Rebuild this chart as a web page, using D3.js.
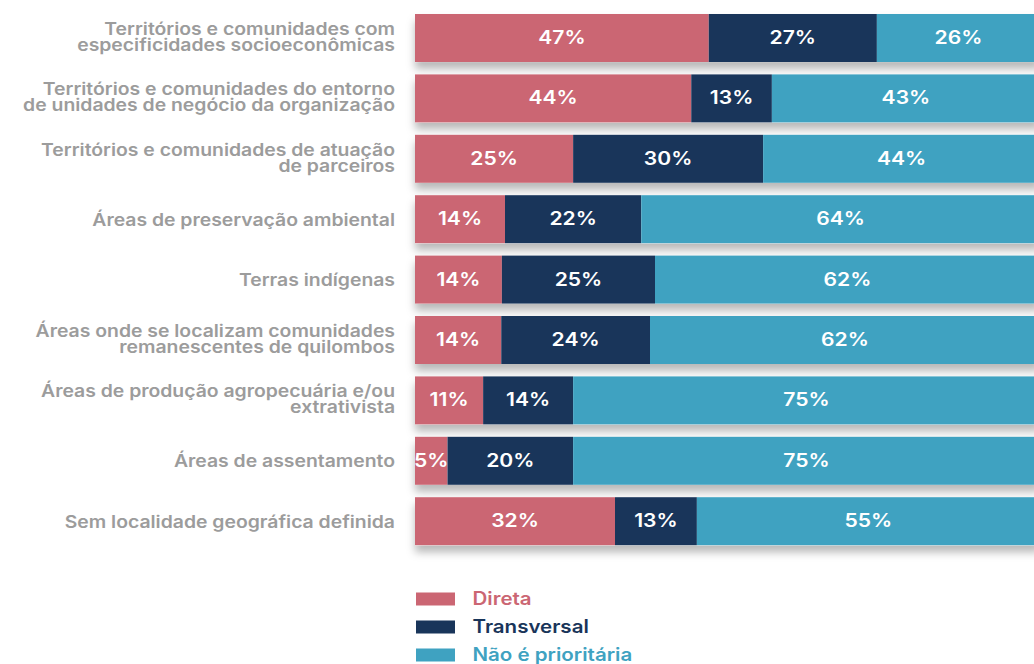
<!DOCTYPE html>
<html>
<head>
<meta charset="utf-8">
<script src="https://cdn.jsdelivr.net/npm/d3@7"></script>
<style>
  html, body { margin: 0; padding: 0; background: #ffffff; }
  svg { display: block; }
</style>
</head>
<body>
<svg id="chart" width="1034" height="664"></svg>
<script>
const categories = [
  ["Territórios e comunidades com", "especificidades socioeconômicas"],
  ["Territórios e comunidades do entorno", "de unidades de negócio da organização"],
  ["Territórios e comunidades de atuação", "de parceiros"],
  ["Áreas de preservação ambiental"],
  ["Terras indígenas"],
  ["Áreas onde se localizam comunidades", "remanescentes de quilombos"],
  ["Áreas de produção agropecuária e/ou", "extrativista"],
  ["Áreas de assentamento"],
  ["Sem localidade geográfica definida"]
];
const seriesNames = ["Direta", "Transversal", "Não é prioritária"];
const direta      = [47.0, 44.2, 25.3, 14.4, 13.9, 13.8, 10.9, 5.2, 32.0];
const transversal = [26.9, 12.9, 30.4, 21.8, 24.5, 23.8, 14.4, 20.1, 13.1];
const naoPrior    = [26.1, 42.9, 44.3, 63.8, 61.6, 62.4, 74.7, 74.7, 54.9];
const labelDireta      = ["47%", "44%", "25%", "14%", "14%", "14%", "11%", "5%", "32%"];
const labelTransversal = ["27%", "13%", "30%", "22%", "25%", "24%", "14%", "20%", "13%"];
const labelNao         = ["26%", "43%", "44%", "64%", "62%", "62%", "75%", "75%", "55%"];

const colors = ["#CB6673", "#19355A", "#3FA2C1"];
const FONT = "Inter, 'Open Sans', sans-serif";
const SX = 1.14; // horizontal stretch of the reference typography

const svg = d3.select("#chart");

const defs = svg.append("defs");
const f = defs.append("filter").attr("id", "shadow")
  .attr("x", "-5%").attr("y", "-20%").attr("width", "110%").attr("height", "160%");
f.append("feDropShadow").attr("dx", 0).attr("dy", 7).attr("stdDeviation", 4.5)
  .attr("flood-color", "#000").attr("flood-opacity", 0.28);

const rows = categories.map((c, i) => ({
  key: "r" + i, lines: c,
  vals: [direta[i], transversal[i], naoPrior[i]],
  labels: [labelDireta[i], labelTransversal[i], labelNao[i]]
}));

const x = d3.scaleLinear().domain([0, 100]).range([415, 1040]);
const y = d3.scaleBand().domain(rows.map(d => d.key))
  .range([7.8, 551.4]).paddingInner(0.2053).paddingOuter(0.1027);

const g = svg.append("g").selectAll("g.row").data(rows).join("g").attr("class", "row");

// shadow base
g.append("rect")
  .attr("x", x(0)).attr("y", d => y(d.key))
  .attr("width", x(100) - x(0)).attr("height", y.bandwidth())
  .attr("fill", "#ffffff").attr("filter", "url(#shadow)");

g.each(function(d) {
  const sel = d3.select(this);
  let acc = 0;
  d.vals.forEach((v, j) => {
    const x0 = x(acc), x1 = x(acc + v);
    sel.append("rect").attr("x", x0).attr("y", y(d.key))
      .attr("width", x1 - x0).attr("height", y.bandwidth())
      .attr("fill", colors[j]);
    acc += v;
  });
  acc = 0;
  d.vals.forEach((v, j) => {
    const x0 = x(acc), x1 = x(acc + v);
    sel.append("text")
      .attr("transform", `translate(${(x0 + x1) / 2}, ${y(d.key) + y.bandwidth() / 2 + 6}) scale(${SX},1)`)
      .attr("text-anchor", "middle").attr("fill", "#ffffff")
      .attr("font-family", FONT).attr("font-weight", 600).attr("font-size", 18.5)
      .text(d.labels[j]);
    acc += v;
  });
  const c = y(d.key) + y.bandwidth() / 2;
  const t = sel.append("text").attr("text-anchor", "end")
    .attr("transform", `translate(395, ${c}) scale(${SX},1)`)
    .attr("font-family", FONT).attr("font-weight", 600).attr("font-size", 17)
    .attr("fill", "#9c9c9c");
  if (d.lines.length === 1) {
    t.append("tspan").attr("x", 0).attr("y", 6.5).text(d.lines[0]);
  } else {
    t.append("tspan").attr("x", 0).attr("y", -3).text(d.lines[0]);
    t.append("tspan").attr("x", 0).attr("y", 12.7).text(d.lines[1]);
  }
});

// legend
const legend = svg.append("g").selectAll("g").data(seriesNames).join("g")
  .attr("transform", (d, i) => `translate(416, ${592.5 + i * 28})`);
legend.append("rect").attr("width", 39).attr("height", 13).attr("fill", (d, i) => colors[i]);
legend.append("text")
  .attr("transform", `translate(56.5, 12.5) scale(${SX},1)`)
  .attr("font-family", FONT).attr("font-weight", 600).attr("font-size", 18)
  .attr("fill", (d, i) => colors[i]).text(d => d);
</script>
</body>
</html>
